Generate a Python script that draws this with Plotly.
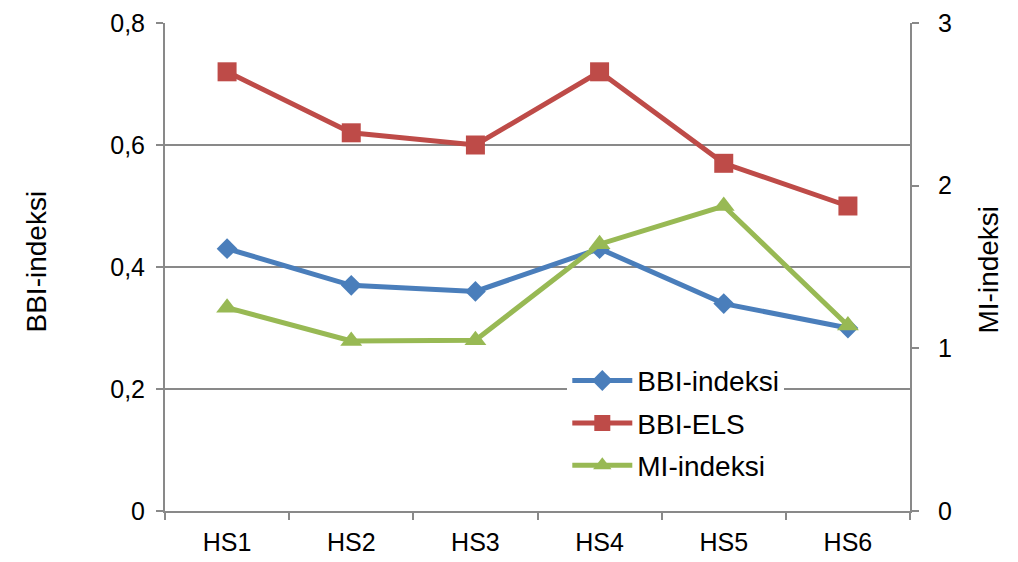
import plotly.graph_objects as go

categories = ["HS1", "HS2", "HS3", "HS4", "HS5", "HS6"]
bbi_indeksi = [0.43, 0.37, 0.36, 0.43, 0.34, 0.30]
bbi_els = [0.72, 0.62, 0.60, 0.72, 0.57, 0.50]
mi_indeksi = [1.25, 1.045, 1.05, 1.64, 1.875, 1.14]

left_ticks = [0, 0.2, 0.4, 0.6, 0.8]
left_labels = ["0", "0,2", "0,4", "0,6", "0,8"]
right_ticks = [0, 1, 2, 3]
right_labels = ["0", "1", "2", "3"]

BLUE = "#4A7EBB"
RED = "#BE4B48"
GREEN = "#98B954"
AX = "#898989"
FONT = "Liberation Sans, Arial, sans-serif"
FS = 25
FS_BIG = 28

fig = go.Figure()
fig.add_trace(go.Scatter(x=categories, y=bbi_indeksi, name="BBI-indeksi", mode="lines+markers",
                         legendgroup="a",
                         line=dict(color=BLUE, width=5),
                         marker=dict(symbol="diamond", size=16, color=BLUE)))
fig.add_trace(go.Scatter(x=categories, y=bbi_els, name="BBI-ELS", mode="lines+markers",
                         legendgroup="b",
                         line=dict(color=RED, width=5),
                         marker=dict(symbol="square", size=19, color=RED)))
fig.add_trace(go.Scatter(x=categories, y=mi_indeksi, name="MI-indeksi", mode="lines+markers",
                         yaxis="y2", legendgroup="c",
                         line=dict(color=GREEN, width=5),
                         marker=dict(symbol="triangle-up", size=19, color=GREEN)))

# page body has an 8px offset; plot area in screen pixels
plot_l, plot_r, plot_t, plot_b = 165, 910, 23, 511
OFF = 8

fig.update_layout(
    width=1018, height=562,
    margin=dict(l=plot_l - OFF, r=1018 - (plot_r - OFF), t=plot_t - OFF, b=562 - (plot_b - OFF)),
    plot_bgcolor="white", paper_bgcolor="white",
    font=dict(family=FONT, size=FS, color="black"),
    showlegend=True,
    legend=dict(x=0.54, y=0.318, xanchor="left", yanchor="top",
                bgcolor="white", borderwidth=0,
                font=dict(size=FS_BIG), itemwidth=60, tracegroupgap=3),
    xaxis=dict(type="category", range=[-0.5, 5.5], tickson="boundaries",
               ticks="outside", ticklen=7, tickcolor=AX, tickwidth=2,
               showline=True, linecolor=AX, linewidth=2,
               showgrid=False, zeroline=False, ticklabelstandoff=8,
               automargin=False),
    yaxis=dict(range=[0, 0.8], tickvals=left_ticks, ticktext=left_labels,
               ticks="outside", ticklen=7, tickcolor=AX, tickwidth=2,
               showline=True, linecolor=AX, linewidth=2,
               showgrid=True, gridcolor=AX, gridwidth=1.5, zeroline=False,
               ticklabelstandoff=6, automargin=False),
    yaxis2=dict(range=[0, 3], tickvals=right_ticks, ticktext=right_labels,
                overlaying="y", side="right",
                ticks="outside", ticklen=7, tickcolor=AX, tickwidth=2,
                showline=True, linecolor=AX, linewidth=2,
                showgrid=False, zeroline=False,
                ticklabelstandoff=14, automargin=False),
    annotations=[
        dict(text="BBI-indeksi", x=18, y=262, xref="paper", yref="paper",
             showarrow=False, textangle=-90, font=dict(size=FS_BIG)),
        dict(text="MI-indeksi", x=1005, y=270, xref="paper", yref="paper",
             showarrow=False, textangle=-90, font=dict(size=FS_BIG)),
    ],
)

# convert screen pixel positions of the axis titles into paper coordinates
for ann in fig.layout.annotations:
    px, py = ann.x, ann.y
    ann.x = (px - plot_l) / (plot_r - plot_l)
    ann.y = (plot_b - py) / (plot_b - plot_t)

fig.write_html("out.html")
